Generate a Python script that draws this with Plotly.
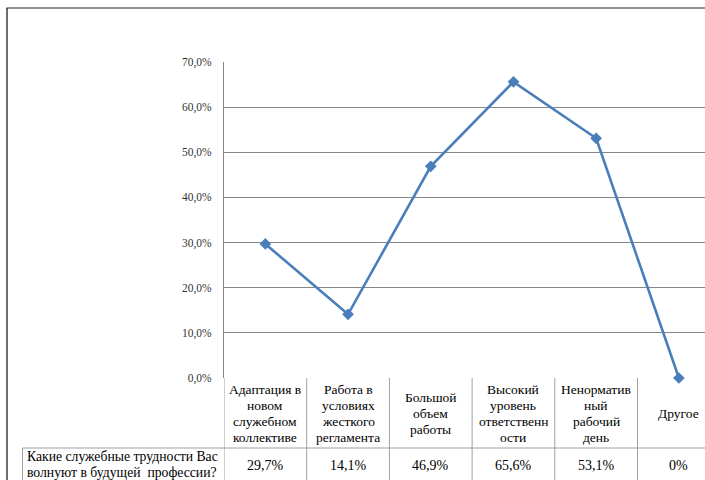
import plotly.graph_objects as go

categories = ["Адаптация в<br>новом<br>служебном<br>коллективе",
              "Работа в<br>условиях<br>жесткого<br>регламента",
              "Большой<br>объем<br>работы",
              "Высокий<br>уровень<br>ответственн<br>ости",
              "Ненорматив<br>ный<br>рабочий<br>день",
              "Другое"]
values = [0.297, 0.141, 0.469, 0.656, 0.531, 0.0]
value_labels = ["29,7%", "14,1%", "46,9%", "65,6%", "53,1%", "0%"]
row_label = "Какие служебные трудности Вас<br>волнуют в будущей  профессии?"
y_ticks = [0, 0.1, 0.2, 0.3, 0.4, 0.5, 0.6, 0.7]

W, H = 705, 480
def py(p):  # pixel y -> paper y
    return (H - p) / H
def px(p):
    return p / W

SERIF = "Liberation Serif, Times New Roman, serif"
LINE_H = 16
x_idx = list(range(len(categories)))

fig = go.Figure()
fig.add_trace(go.Scatter(
    x=x_idx, y=values, mode="lines+markers",
    line=dict(color="#4a7ebb", width=2.6),
    marker=dict(symbol="diamond", size=9, color="#4a7ebb"),
    showlegend=False, hoverinfo="skip", cliponaxis=False))

shapes = []
# outer frame
shapes.append(dict(type="line", xref="paper", yref="paper", x0=px(6.5), x1=1, y0=py(8), y1=py(8),
                   line=dict(color="#6e6e6e", width=1.5)))
shapes.append(dict(type="line", xref="paper", yref="paper", x0=px(7), x1=px(7), y0=py(8), y1=0,
                   line=dict(color="#202020", width=1.3)))
# table vertical lines at column boundaries
for i in range(len(categories)):
    shapes.append(dict(type="line", xref="x", yref="paper", x0=i - 0.5, x1=i - 0.5,
                       y0=py(378), y1=0, line=dict(color="#a0a0a0", width=1)))
# row label cell
shapes.append(dict(type="line", xref="paper", yref="paper", x0=px(22.5), x1=px(22.5),
                   y0=py(448), y1=0, line=dict(color="#a0a0a0", width=1)))
shapes.append(dict(type="line", xref="paper", yref="paper", x0=px(22.5), x1=1,
                   y0=py(448), y1=py(448), line=dict(color="#a0a0a0", width=1)))

annotations = []
for i, c in enumerate(categories):
    lines = c.split("<br>")
    n = len(lines)
    for k, ln in enumerate(lines):
        yc = 413 + (k - (n - 1) / 2) * LINE_H
        annotations.append(dict(x=i, y=py(yc), xref="x", yref="paper", text=ln, showarrow=False,
                                font=dict(family=SERIF, size=13.5, color="#000000"),
                                xanchor="center", yanchor="middle"))
    annotations.append(dict(x=i, y=py(465), xref="x", yref="paper", text=value_labels[i],
                            showarrow=False,
                            font=dict(family=SERIF, size=14, color="#000000"),
                            xanchor="center", yanchor="middle"))
for k, ln in enumerate(row_label.split("<br>")):
    annotations.append(dict(x=px(25), y=py(456 + k * LINE_H), xref="paper", yref="paper", text=ln,
                            showarrow=False,
                            font=dict(family=SERIF, size=13.7, color="#000000"),
                            xanchor="left", yanchor="middle"))

fig.update_layout(
    width=W, height=H,
    margin=dict(l=0, r=0, t=0, b=0, autoexpand=False),
    paper_bgcolor="white", plot_bgcolor="white",
    separators=", ",
    xaxis=dict(domain=[px(224), 1], range=[-0.5, 5.316], showticklabels=False,
               showgrid=False, zeroline=False, showline=False, ticks="", automargin=False),
    yaxis=dict(domain=[py(378), py(62)], range=[0, 0.7], tickvals=y_ticks, tickformat=".1%",
               showgrid=True, gridcolor="#868686", gridwidth=1, zeroline=False,
               showline=True, linecolor="#868686", linewidth=1, ticks="", ticklen=0,
               automargin=False, ticklabelstandoff=9,
               tickfont=dict(family=SERIF, size=11.5, color="#333333")),
    shapes=shapes, annotations=annotations,
)

post = ("document.documentElement.style.margin='0';"
        "document.documentElement.style.overflow='hidden';"
        "document.body.style.margin='0';"
        "document.body.style.overflow='hidden';")
fig.write_html("out.html", config={"displayModeBar": False},
               post_script=post)
